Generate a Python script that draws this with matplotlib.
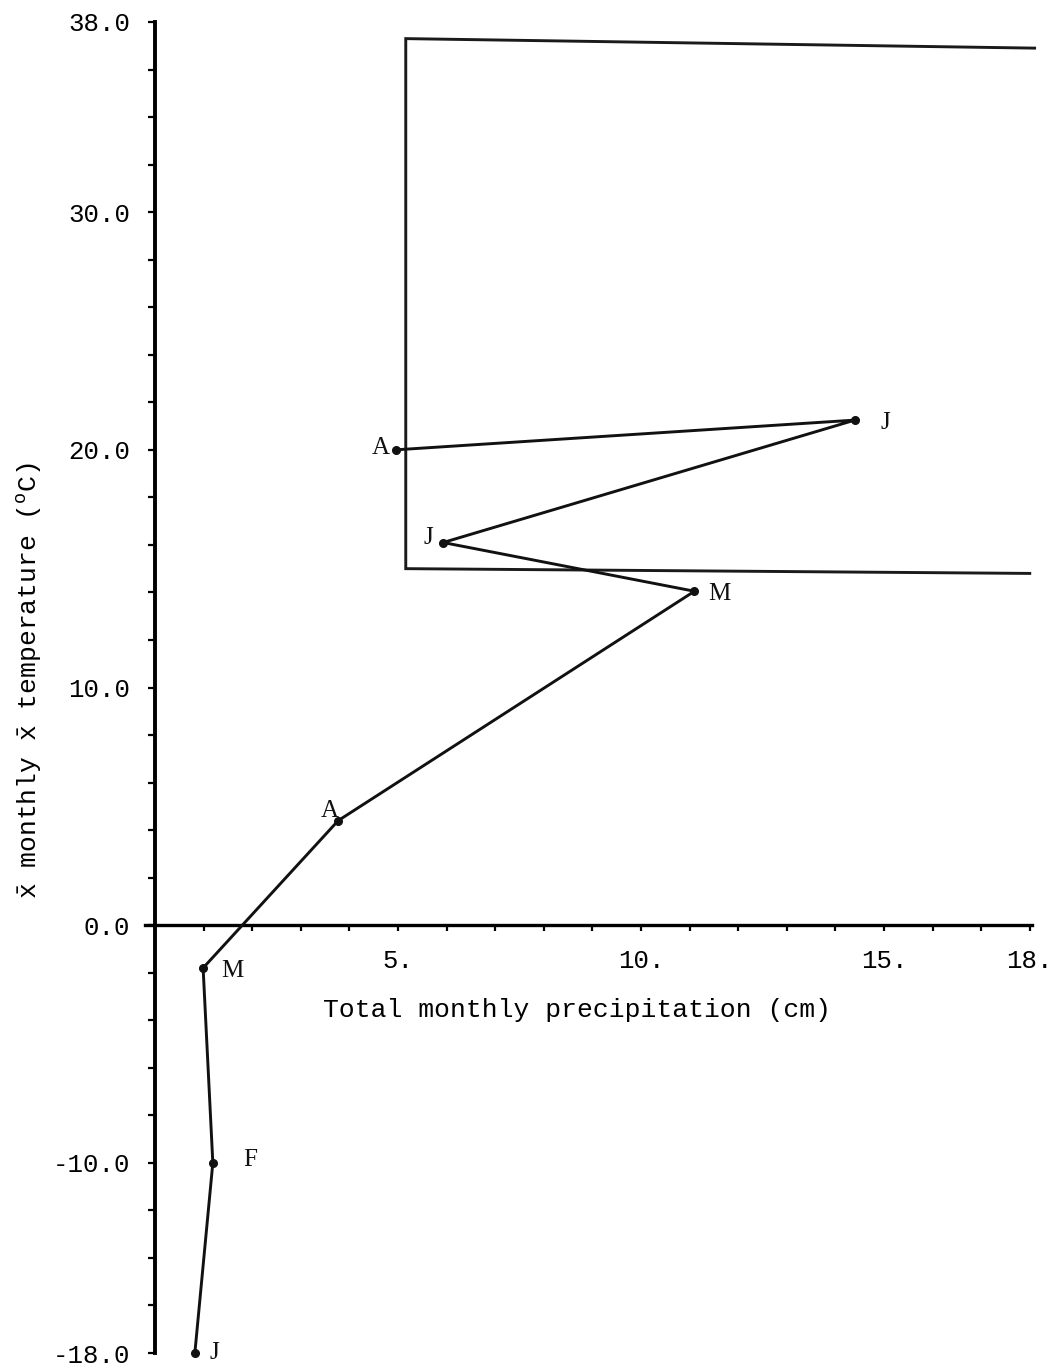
import matplotlib
matplotlib.use("Agg")
import matplotlib.pyplot as plt

plt.rcParams["font.family"] = ["Liberation Mono", "DejaVu Sans"]
plt.rcParams["mathtext.fontset"] = "custom"
plt.rcParams["mathtext.rm"] = "Liberation Mono"
plt.rcParams["mathtext.it"] = "Liberation Mono"

# Monthly climate (January to August)
months = ["J", "F", "M", "A", "M", "J", "J", "A"]
precip_cm = [0.82, 1.19, 0.99, 3.77, 11.1, 5.93, 14.4, 4.96]
temp_c = [-18.0, -10.0, -1.8, 4.4, 14.05, 16.1, 21.25, 20.0]

# Outline of the tolerance region (precipitation, temperature)
region_x = [18.1, 5.16, 5.16, 18.0]
region_y = [36.9, 37.3, 15.0, 14.8]

x_major = [5, 10, 15, 18]
x_major_labels = ["5.", "10.", "15.", "18."]
y_major = [38, 30, 20, 10, 0, -10, -18]
y_major_labels = ["38.0", "30.0", "20.0", "10.0", "0.0", "-10.0", "-18.0"]

# Offsets (in points) of each month letter from its point
label_offsets = [(14, 0), (27, 2), (21, -2), (-6, 7),
                 (18, -2), (-11, 3.5), (22, -2), (-11, 1)]

W, H = 1054, 1367
fig = plt.figure(figsize=(W / 100, H / 100), dpi=100)
ax = fig.add_axes([130.7 / W, 2.1 / H, 918.0 / W, 1354.8 / H])
ax.set_xlim(-0.5, 18.39)
ax.set_ylim(-18.5, 38.5)

for s in ("top", "right"):
    ax.spines[s].set_visible(False)
ax.spines["left"].set_position(("data", 0))
ax.spines["bottom"].set_position(("data", 0))
ax.spines["left"].set_bounds(-18, 38)
ax.spines["bottom"].set_bounds(-0.2, 18.05)
ax.spines["left"].set_linewidth(2.8)
ax.spines["bottom"].set_linewidth(2.4)

ax.set_xticks(x_major)
ax.set_xticklabels(x_major_labels)
ax.set_xticks(range(1, 19), minor=True)
ax.set_yticks(y_major)
ax.set_yticklabels(y_major_labels)
ax.set_yticks(range(-18, 39, 2), minor=True)
ax.tick_params(axis="x", which="both", direction="out", length=4.5, width=1.6,
               pad=13, labelsize=18.5)
ax.tick_params(axis="y", which="both", direction="out", length=5, width=1.6,
               pad=13, labelsize=18.5)

# Tolerance region outline
ax.plot(region_x, region_y, color="#1a1a1a", lw=2.1, solid_joinstyle="miter")

# Monthly path
ax.plot(precip_cm, temp_c, color="#111111", lw=2.1, marker="o", ms=5.5,
        markerfacecolor="#111111", markeredgecolor="#111111", zorder=3)

for m, x, y, (dx, dy) in zip(months, precip_cm, temp_c, label_offsets):
    ax.annotate(m, (x, y), xytext=(dx, dy), textcoords="offset points",
                ha="center", va="center", fontsize=18,
                family=["Liberation Serif"], color="#111111")

ax.text(0.4866, 0.262, "Total monthly precipitation (cm)", transform=ax.transAxes,
        ha="center", va="center", fontsize=19)
ax.text(-0.11, 0.505,
        r"$\bar{\mathrm{x}}$ monthly $\bar{\mathrm{x}}$ temperature ($^{\mathrm{o}}$C)",
        transform=ax.transAxes, rotation=90, ha="center", va="center", fontsize=19)

fig.savefig("out.png", dpi=100, facecolor="white")
